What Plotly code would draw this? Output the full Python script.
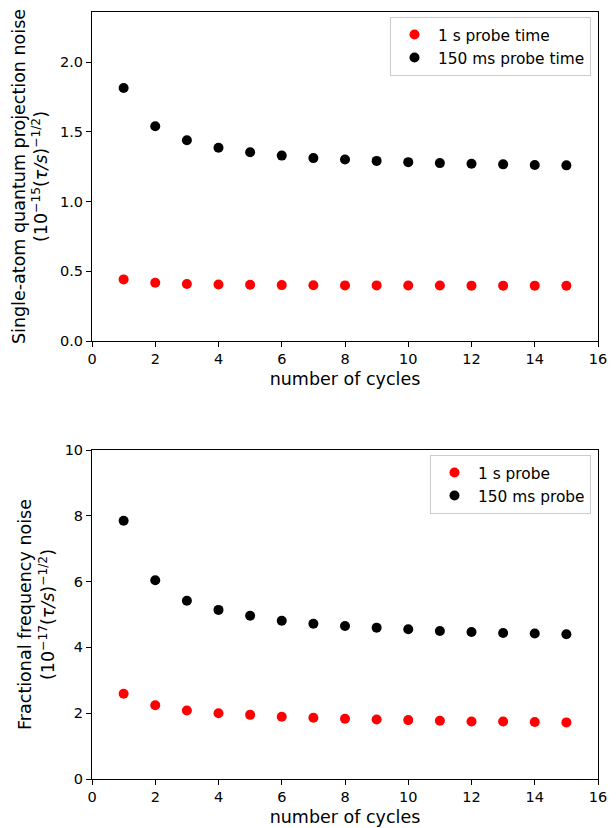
import plotly.graph_objects as go
from plotly.subplots import make_subplots

cycles = list(range(1, 16))

# Top panel: single-atom quantum projection noise (10^-15 (tau/s)^-1/2)
qpn_1s = [0.442, 0.418, 0.409, 0.405, 0.403, 0.401, 0.400, 0.399, 0.399, 0.398,
          0.398, 0.397, 0.397, 0.397, 0.396]
qpn_150ms = [1.815, 1.541, 1.440, 1.386, 1.354, 1.330, 1.312, 1.302, 1.292, 1.283,
             1.276, 1.271, 1.267, 1.263, 1.260]

# Bottom panel: fractional frequency noise (10^-17 (tau/s)^-1/2)
ffn_1s = [2.59, 2.24, 2.08, 2.00, 1.95, 1.89, 1.86, 1.83, 1.81, 1.79,
          1.77, 1.75, 1.75, 1.73, 1.72]
ffn_150ms = [7.85, 6.04, 5.42, 5.14, 4.96, 4.81, 4.72, 4.65, 4.60, 4.55,
             4.50, 4.47, 4.44, 4.42, 4.40]

x_ticks = list(range(0, 17, 2))

W, H = 616, 828
L, R, T, B = 92, 18, 12, 49
plot_h = H - T - B
ax_h = 329

fig = make_subplots(rows=2, cols=1)

mk = dict(size=10, line=dict(width=0))
fig.add_trace(go.Scatter(x=cycles, y=qpn_1s, mode="markers", name="1 s probe time",
                         marker=dict(color="#ff0000", **mk), legend="legend"), row=1, col=1)
fig.add_trace(go.Scatter(x=cycles, y=qpn_150ms, mode="markers", name="150 ms probe time",
                         marker=dict(color="#000000", **mk), legend="legend"), row=1, col=1)
fig.add_trace(go.Scatter(x=cycles, y=ffn_1s, mode="markers", name="1 s probe",
                         marker=dict(color="#ff0000", **mk), legend="legend2"), row=2, col=1)
fig.add_trace(go.Scatter(x=cycles, y=ffn_150ms, mode="markers", name="150 ms probe",
                         marker=dict(color="#000000", **mk), legend="legend2"), row=2, col=1)

font = "DejaVu Sans"
axis_common = dict(showline=True, linecolor="black", linewidth=1, mirror=True,
                   ticks="outside", ticklen=5, tickwidth=1, tickcolor="black",
                   showgrid=False, zeroline=False, automargin=False,
                   tickfont=dict(family=font, size=14.5, color="black"))

top_dom = [(plot_h - ax_h) / plot_h, 1.0]
bot_dom = [0.0, ax_h / plot_h]
title_font = dict(family=font, size=17.5, color="black")
legend_style = dict(xanchor="right", yanchor="top",
                    bordercolor="#cccccc", borderwidth=1, bgcolor="rgba(255,255,255,0.8)",
                    font=dict(family=font, size=15.4, color="black"), itemwidth=37)

fig.update_layout(
    template="none",
    width=W, height=H,
    margin=dict(l=L, r=R, t=T, b=B, autoexpand=False),
    paper_bgcolor="white", plot_bgcolor="white",
    font=dict(family=font, color="black"),
    xaxis=dict(range=[0, 16], tickvals=x_ticks, **axis_common,
               title=dict(text="number of cycles", font=title_font, standoff=6)),
    yaxis=dict(range=[0, 2.36], dtick=0.5, tickformat=".1f", domain=top_dom, **axis_common,
               title=dict(text="Single-atom quantum projection noise<br>(10<sup>−15</sup>(<i>τ/s</i>)<sup>−1/2</sup>)",
                          font=title_font, standoff=7)),
    xaxis2=dict(range=[0, 16], tickvals=x_ticks, **axis_common,
                title=dict(text="number of cycles", font=title_font, standoff=6)),
    yaxis2=dict(range=[0, 10], dtick=2, domain=bot_dom, **axis_common,
                title=dict(text="Fractional frequency noise<br>(10<sup>−17</sup>(<i>τ/s</i>)<sup>−1/2</sup>)",
                           font=title_font, standoff=5)),
    legend=dict(x=(591 - L) / (W - L - R), y=(H - B - 17) / plot_h, **legend_style),
    legend2=dict(x=(591 - L) / (W - L - R), y=(H - B - 455) / plot_h, **legend_style),
    showlegend=True,
)

fig.write_html(
    "out.html",
    config={"displayModeBar": False},
    post_script=(
        "document.documentElement.style.margin='0';"
        "document.documentElement.style.padding='0';"
        "document.documentElement.style.overflow='hidden';"
        "document.body.style.margin='0';"
        "document.body.style.padding='0';"
        "document.body.style.overflow='hidden';"
    ),
)
